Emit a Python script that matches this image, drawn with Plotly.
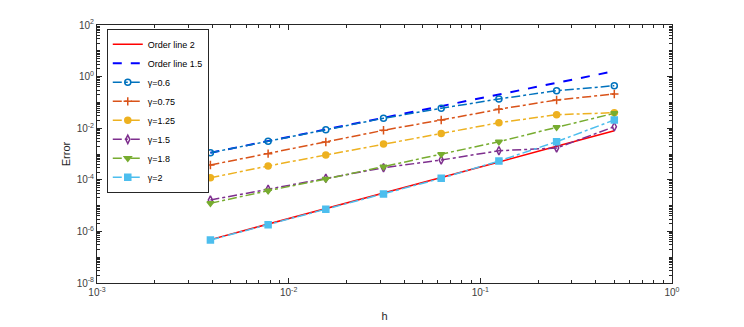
import plotly.graph_objects as go

# step sizes h = 1/256 ... 1/2
h = [1/256, 1/128, 1/64, 1/32, 1/16, 1/8, 1/4, 1/2]

order2 = [4.8e-7, 1.9e-6, 7.7e-6, 3.1e-5, 1.2e-4, 4.9e-4, 2.0e-3, 7.9e-3]
order15 = [1.12e-3, 3.17e-3, 8.96e-3, 2.53e-2, 7.17e-2, 0.203, 0.573, 1.62]

err_06 = [1.12e-3, 3.1e-3, 8.75e-3, 2.42e-2, 5.9e-2, 0.136, 0.284, 0.444]
err_075 = [3.75e-4, 1.03e-3, 2.92e-3, 8.3e-3, 2.08e-2, 5.4e-2, 0.124, 0.212]
err_125 = [1.2e-4, 3.43e-4, 9.14e-4, 2.44e-3, 6.3e-3, 1.63e-2, 3.33e-2, 3.99e-2]
err_15 = [1.65e-5, 4.3e-5, 1.14e-4, 2.94e-4, 5.85e-4, 1.34e-3, 1.71e-3, 1.14e-2]
err_18 = [1.23e-5, 3.78e-5, 1.07e-4, 3.22e-4, 9.73e-4, 3.0e-3, 1.08e-2, 3.79e-2]
err_2 = [4.65e-7, 1.82e-6, 7.2e-6, 2.82e-5, 1.14e-4, 5.36e-4, 3.0e-3, 2.08e-2]

x_ticks = [1e-3, 1e-2, 1e-1, 1e0]
x_labels = ["10<sup>-3</sup>", "10<sup>-2</sup>", "10<sup>-1</sup>", "10<sup>0</sup>"]
y_ticks = [1e-8, 1e-6, 1e-4, 1e-2, 1e0, 1e2]
y_labels = ["10<sup>-8</sup>", "10<sup>-6</sup>", "10<sup>-4</sup>", "10<sup>-2</sup>",
            "10<sup>0</sup>", "10<sup>2</sup>"]

# minor tick positions (MATLAB-style log minor ticks)
x_minor = [m * 10.0 ** d for d in range(-3, 0) for m in range(2, 10)]
y_minor = [m * 10.0 ** d for d in range(-8, 2) for m in range(1, 10)
           if not (m == 1 and d % 2 == 0)]

fig = go.Figure()

fig.add_trace(go.Scatter(x=h, y=order2, name="Order line 2", mode="lines",
                         line=dict(color="#FF0000", width=1.5)))
fig.add_trace(go.Scatter(x=h, y=order15, name="Order line 1.5", mode="lines",
                         line=dict(color="#0000FF", width=2, dash="dash")))

gammas = [
    ("γ=0.6", err_06, "#0072BD", "circle-open"),
    ("γ=0.75", err_075, "#D95319", "cross-thin-open"),
    ("γ=1.25", err_125, "#EDB120", "circle"),
    ("γ=1.5", err_15, "#7E2F8E", "diamond-tall-open"),
    ("γ=1.8", err_18, "#77AC30", "triangle-down"),
    ("γ=2", err_2, "#4DBEEE", "square"),
]
for name, vals, col, sym in gammas:
    fig.add_trace(go.Scatter(x=h, y=vals, name=name, mode="lines+markers",
                             line=dict(color=col, width=1.5, dash="dashdot"),
                             marker=dict(symbol=sym, size=6, color=col,
                                         line=dict(color=col, width=1.5))))

axis_common = dict(type="log", showline=True, linecolor="#262626", linewidth=1,
                   mirror="ticks", ticks="inside", ticklen=5, tickcolor="#262626",
                   showgrid=False, zeroline=False, automargin=False,
                   tickfont=dict(family="Liberation Sans Narrow, Liberation Sans", size=10, color="#404040"))

fig.update_xaxes(range=[-3, 0], tickvals=x_ticks, ticktext=x_labels,
                 minor=dict(tickvals=x_minor, ticks="inside", ticklen=3,
                            tickcolor="#262626", showgrid=False),
                 title=dict(text="h", font=dict(size=11, color="#262626"), standoff=15),
                 **axis_common)
fig.update_yaxes(range=[-8, 2], tickvals=y_ticks, ticktext=y_labels,
                 minor=dict(tickvals=y_minor, ticks="inside", ticklen=3,
                            tickcolor="#262626", showgrid=False),
                 title=dict(text="Error", font=dict(size=11, color="#262626"), standoff=3),
                 **axis_common)

# page body adds an 8px offset, so the figure is 8px smaller
fig.update_layout(
    width=736, height=319,
    margin=dict(l=89, r=72, t=17, b=44),
    plot_bgcolor="white", paper_bgcolor="white",
    font=dict(family="Liberation Sans"),
    legend=dict(x=0.017, y=0.985, xanchor="left", yanchor="top",
                bgcolor="white", bordercolor="#262626", borderwidth=1,
                font=dict(family="Liberation Sans Narrow, Liberation Sans", size=9, color="black"),
                tracegroupgap=0, itemwidth=30),
)

fig.write_html("out.html")
